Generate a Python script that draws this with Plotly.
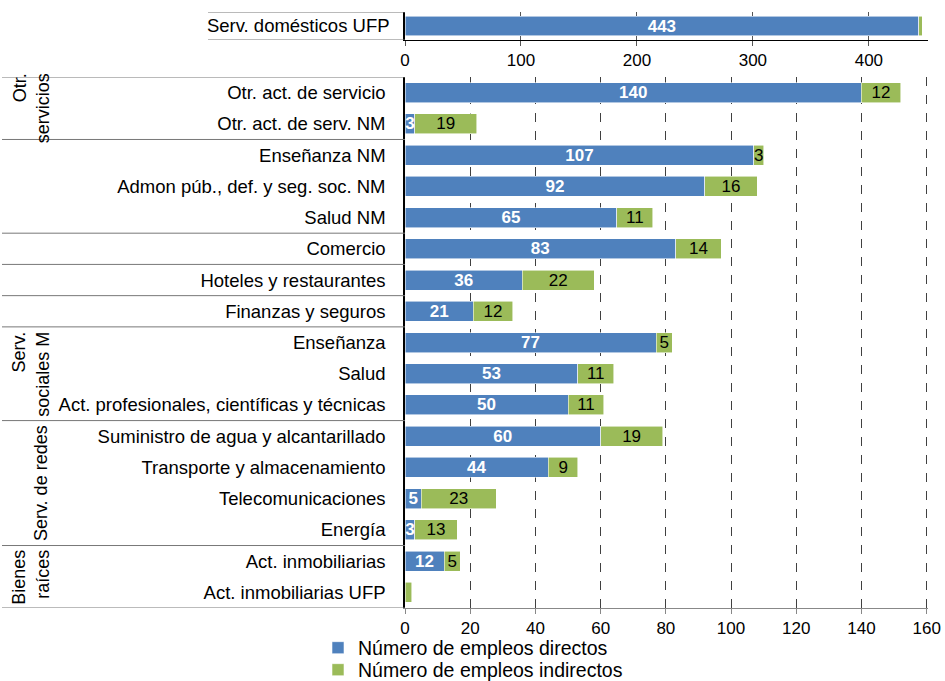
import plotly.graph_objects as go

# ---- data ----
top_categories = ["Serv. domésticos UFP"]
top_directos = [443]
top_indirectos = [3]

categories = [
    "Otr. act. de servicio",
    "Otr. act. de serv. NM",
    "Enseñanza NM",
    "Admon púb., def. y seg. soc. NM",
    "Salud NM",
    "Comercio",
    "Hoteles y restaurantes",
    "Finanzas y seguros",
    "Enseñanza",
    "Salud",
    "Act. profesionales, científicas y técnicas",
    "Suministro de agua y alcantarillado",
    "Transporte y almacenamiento",
    "Telecomunicaciones",
    "Energía",
    "Act. inmobiliarias",
    "Act. inmobiliarias UFP",
]
directos = [140, 3, 107, 92, 65, 83, 36, 21, 77, 53, 50, 60, 44, 5, 3, 12, 0]
indirectos = [12, 19, 3, 16, 11, 14, 22, 12, 5, 11, 11, 19, 9, 23, 13, 5, 2]

# group labels: (text, first index, last index)
groups = [
    ("Otr.<br>servicios", 0, 1),
    ("Serv.<br>sociales M", 8, 10),
    ("Serv. de redes", 11, 14),
    ("Bienes<br>raíces", 15, 16),
]
separators = [-0.5, 1.5, 4.5, 5.5, 6.5, 7.5, 10.5, 14.5, 16.5]

series_names = ["Número de empleos directos", "Número de empleos indirectos"]
top_ticks = [0, 100, 200, 300, 400]
bottom_ticks = [0, 20, 40, 60, 80, 100, 120, 140, 160]

BLUE = "#4F81BD"
GREEN = "#9BBB59"
FONT = "Liberation Sans, Arial, sans-serif"
W, H = 945, 681


def px_x(p):
    return p / W


def px_y(p):
    return 1 - p / H


fig = go.Figure()

bar_line = dict(color="rgba(255,255,255,0.7)", width=0.8)

# top panel
fig.add_trace(go.Bar(
    y=top_categories, x=top_directos, orientation="h", xaxis="x", yaxis="y",
    marker=dict(color=BLUE, line=bar_line), width=0.68,
    text=[str(v) for v in top_directos], textposition="inside",
    insidetextanchor="middle", textangle=0, constraintext="none",
    textfont=dict(family=FONT, size=17, color="white", weight="bold"),
    name=series_names[0], showlegend=False, cliponaxis=False,
))
fig.add_trace(go.Bar(
    y=top_categories, x=top_indirectos, orientation="h", xaxis="x", yaxis="y",
    marker=dict(color=GREEN, line=bar_line), width=0.68,
    text=[""], textposition="none",
    name=series_names[1], showlegend=False,
))

# bottom panel
fig.add_trace(go.Bar(
    y=categories, x=directos, orientation="h", xaxis="x2", yaxis="y2",
    marker=dict(color=BLUE, line=bar_line), width=0.64,
    text=[str(v) if v > 0 else "" for v in directos], textposition="inside",
    insidetextanchor="middle", textangle=0, constraintext="none",
    textfont=dict(family=FONT, size=17, color="white", weight="bold"),
    name=series_names[0], legend="legend", cliponaxis=False,
))
fig.add_trace(go.Bar(
    y=categories, x=indirectos, orientation="h", xaxis="x2", yaxis="y2",
    marker=dict(color=GREEN, line=bar_line), width=0.64,
    text=[str(v) if v > 2 else "" for v in indirectos], textposition="inside",
    insidetextanchor="middle", textangle=0, constraintext="none",
    textfont=dict(family=FONT, size=17, color="black"),
    name=series_names[1], legend="legend2", cliponaxis=False,
))

xdom = [px_x(405), px_x(928)]

legend_common = dict(
    orientation="v", xanchor="left", yanchor="middle", font=dict(size=19.5),
    itemwidth=30, bgcolor="rgba(0,0,0,0)", borderwidth=0,
)

fig.update_layout(
    width=W, height=H,
    margin=dict(l=0, r=0, t=0, b=0, pad=0, autoexpand=False),
    barmode="stack",
    plot_bgcolor="white", paper_bgcolor="white",
    font=dict(family=FONT, size=17, color="black"),
    xaxis=dict(
        domain=xdom, anchor="y", range=[0, 451], tickvals=top_ticks,
        showgrid=True, gridcolor="#555555", gridwidth=1,
        showline=True, linecolor="black", linewidth=1,
        ticks="outside", ticklen=5, tickcolor="#555555",
        zeroline=False, tickfont=dict(size=17), automargin=False,
    ),
    yaxis=dict(
        domain=[px_y(40), px_y(12)], anchor="x",
        categoryorder="array", categoryarray=top_categories,
        range=[0.5, -0.5],
        showline=True, linecolor="black", linewidth=1.5,
        ticks="", ticklabelstandoff=10, showgrid=False,
        tickfont=dict(size=18.5), automargin=False,
    ),
    xaxis2=dict(
        domain=xdom, anchor="y2", range=[0, 160.4], tickvals=bottom_ticks,
        showgrid=True, gridcolor="#404040", gridwidth=1, griddash="dash",
        showline=True, linecolor="#888888", linewidth=1,
        ticks="outside", ticklen=5, tickcolor="#888888",
        zeroline=False, tickfont=dict(size=17), automargin=False,
    ),
    yaxis2=dict(
        domain=[px_y(608), px_y(77)], anchor="x2",
        categoryorder="array", categoryarray=categories,
        range=[16.5, -0.5],
        showline=True, linecolor="black", linewidth=1.5,
        ticks="", ticklabelstandoff=14, showgrid=False,
        tickfont=dict(size=18.5), automargin=False,
    ),
    legend=dict(x=px_x(318), y=px_y(648), **legend_common),
    legend2=dict(x=px_x(318), y=px_y(670), **legend_common),
)

shapes = []
# box around top category label
for yv in (-0.5, 0.5):
    shapes.append(dict(type="line", xref="paper", yref="y", x0=px_x(208), x1=xdom[0],
                       y0=yv, y1=yv, line=dict(color="#777777", width=1)))
# separators in bottom panel label area
for yv in separators:
    shapes.append(dict(type="line", xref="paper", yref="y2", x0=px_x(2), x1=xdom[0],
                       y0=yv, y1=yv, line=dict(color="#777777", width=1)))
fig.update_layout(shapes=shapes)

for text, a, b in groups:
    two_lines = "<br>" in text
    fig.add_annotation(
        text=text, xref="paper", yref="y2",
        x=px_x(31) if two_lines else px_x(41), y=(a + b) / 2,
        textangle=-90, showarrow=False, xanchor="center", yanchor="middle",
        font=dict(size=18), align="right",
    )

fig.write_html("out.html", config={"displayModeBar": False})

# remove the default page margin so the figure sits at the window's top-left corner
with open("out.html", encoding="utf-8") as f:
    html = f.read()
html = html.replace("<body>", '<body style="margin:0;padding:0;overflow:hidden">', 1)
with open("out.html", "w", encoding="utf-8") as f:
    f.write(html)
